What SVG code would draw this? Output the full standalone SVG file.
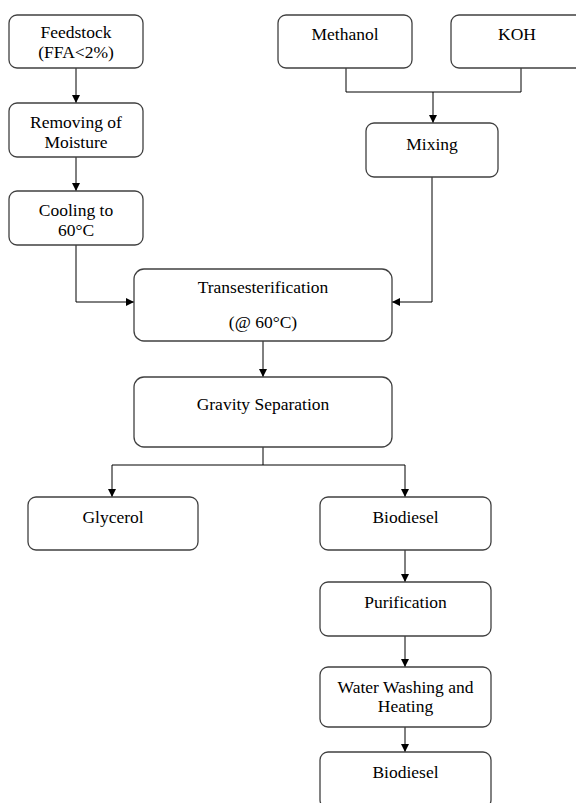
<svg xmlns="http://www.w3.org/2000/svg" width="576" height="803" viewBox="0 0 576 803">
<defs>
<marker id="ah" viewBox="0 0 10 10" refX="10" refY="5" markerWidth="8" markerHeight="8" markerUnits="userSpaceOnUse" orient="auto">
<path d="M0,0 L10,5 L0,10 z" fill="#000"/>
</marker>
<style>
.box{fill:#fff;stroke:#404040;stroke-width:1.3}
.t{font-family:'Liberation Serif','DejaVu Serif',serif;font-size:17.5px;fill:#000;text-anchor:middle}
.c{fill:none;stroke:#000;stroke-width:1}
</style>
</defs>
<rect width="576" height="803" fill="#fff"/>
<g id="connectors">
<path class="c" d="M76,68 V103" marker-end="url(#ah)"/>
<path class="c" d="M76,157 V191" marker-end="url(#ah)"/>
<path class="c" d="M76,245 V302 H134" marker-end="url(#ah)"/>
<path class="c" d="M346,68 V92 H521 V68"/>
<path class="c" d="M433,92 V123" marker-end="url(#ah)"/>
<path class="c" d="M432,177 V302 H392" marker-end="url(#ah)"/>
<path class="c" d="M263,341 V377" marker-end="url(#ah)"/>
<path class="c" d="M263,447 V465"/>
<path class="c" d="M112,465 H405"/>
<path class="c" d="M112,465 V497" marker-end="url(#ah)"/>
<path class="c" d="M405,465 V497" marker-end="url(#ah)"/>
<path class="c" d="M405,550 V582" marker-end="url(#ah)"/>
<path class="c" d="M405,636 V667" marker-end="url(#ah)"/>
<path class="c" d="M405,727 V752" marker-end="url(#ah)"/>
</g>
<g id="feedstock">
<rect class="box" x="9" y="15" width="134" height="53" rx="8"/>
<text class="t" x="76" y="38">Feedstock</text>
<text class="t" x="76" y="58">(FFA&lt;2%)</text>
</g>
<g id="removing">
<rect class="box" x="9" y="103" width="134" height="54" rx="8"/>
<text class="t" x="76" y="128">Removing of</text>
<text class="t" x="76" y="148">Moisture</text>
</g>
<g id="cooling">
<rect class="box" x="9" y="191" width="134" height="54" rx="8"/>
<text class="t" x="76" y="216">Cooling to</text>
<text class="t" x="76" y="236">60°C</text>
</g>
<g id="methanol">
<rect class="box" x="278" y="15" width="134" height="53" rx="8"/>
<text class="t" x="345" y="40">Methanol</text>
</g>
<g id="koh">
<rect class="box" x="451" y="15" width="134" height="53" rx="8"/>
<text class="t" x="517" y="40">KOH</text>
</g>
<g id="mixing">
<rect class="box" x="366" y="123" width="132" height="54" rx="8"/>
<text class="t" x="432" y="150">Mixing</text>
</g>
<g id="transesterification">
<rect class="box" x="134" y="269" width="258" height="72" rx="10"/>
<text class="t" x="263" y="293">Transesterification</text>
<text class="t" x="263" y="328">(@ 60°C)</text>
</g>
<g id="gravity">
<rect class="box" x="134" y="377" width="258" height="70" rx="10"/>
<text class="t" x="263" y="410">Gravity Separation</text>
</g>
<g id="glycerol">
<rect class="box" x="28" y="497" width="170" height="53" rx="8"/>
<text class="t" x="113" y="523">Glycerol</text>
</g>
<g id="biodiesel1">
<rect class="box" x="320" y="497" width="171" height="53" rx="8"/>
<text class="t" x="405.5" y="523">Biodiesel</text>
</g>
<g id="purification">
<rect class="box" x="320" y="582" width="171" height="54" rx="8"/>
<text class="t" x="405.5" y="608">Purification</text>
</g>
<g id="washing">
<rect class="box" x="320" y="667" width="171" height="60" rx="8"/>
<text class="t" x="405.5" y="693">Water Washing and</text>
<text class="t" x="405.5" y="712">Heating</text>
</g>
<g id="biodiesel2">
<rect class="box" x="320" y="752" width="171" height="56" rx="8"/>
<text class="t" x="405.5" y="778">Biodiesel</text>
</g>
</svg>
